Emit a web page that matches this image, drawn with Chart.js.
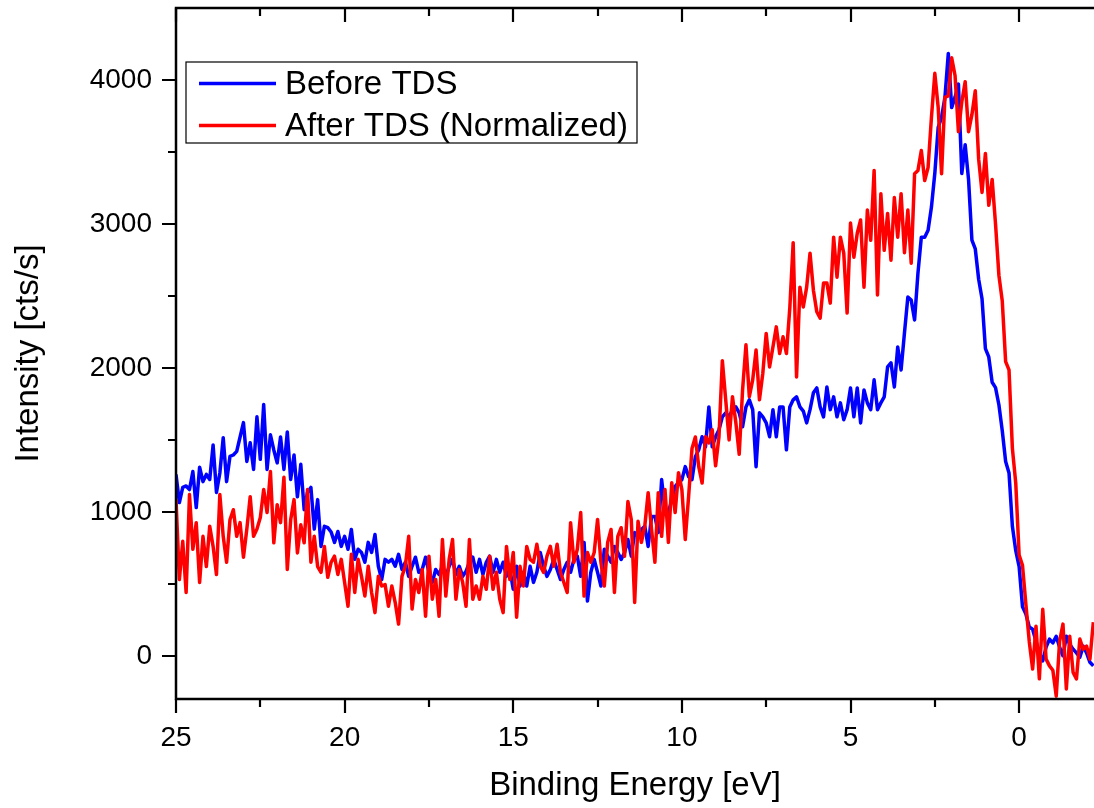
<!DOCTYPE html>
<html>
<head>
<meta charset="utf-8">
<script src="https://cdn.jsdelivr.net/npm/chart.js@4.4.0/dist/chart.umd.min.js"></script>
<style>
  html, body { margin: 0; padding: 0; background: #fff; }
  #wrap { width: 1094px; height: 808px; }
</style>
</head>
<body>
<div id="wrap"><canvas id="xps" width="1094" height="808"></canvas></div>
<script>
//spectrum sampling: first binding energy and step (eV)
const energyStart = 25;
const energyStep = 0.1;

const beforeTDS = [
  1260,1065,1170,1180,1155,1280,1030,1310,1210,1260,
  1225,1465,1135,1270,1515,1210,1385,1395,1420,1520,
  1620,1350,1480,1295,1660,1365,1745,1295,1535,1430,
  1340,1520,1295,1555,1225,1395,1105,1330,1015,1135,
  1170,880,1085,760,900,890,860,
  788,864,760,830,740,878,670,740,718,650,
  788,718,843,622,530,670,650,670,622,705,
  600,650,552,622,685,580,600,685,580,510,
  600,565,622,552,622,670,565,622,552,587,
  650,685,580,670,565,650,692,
  580,670,580,650,552,600,462,622,485,580,
  485,622,510,580,718,622,552,600,670,600,
  530,600,650,580,670,692,552,788,380,580,
  670,580,485,740,692,650,760,718,670,718,
  808,692,856,830,878,900,760,
  968,968,856,1224,1015,995,1085,1176,1203,1224,
  1314,1245,1224,1383,1431,1522,1452,1729,1452,1522,
  1570,1660,1688,1660,1710,1729,1688,1591,1729,1778,
  1710,1314,1688,1660,1618,1522,1710,1522,1729,1729,
  1431,1729,1778,1799,1729,1700,
  1618,1710,1827,1861,1729,1660,1868,1710,1799,1660,
  1757,1640,1710,1861,1660,1861,1618,1847,1757,1710,
  1917,1710,1757,1799,2007,2035,1868,2145,1986,2243,
  2492,2471,2333,2658,2908,2908,2956,3117,3352,3671,
  3740,3879,4184,
  3808,3881,3971,3350,3550,3309,2887,2826,2616,2480,
  2134,2076,1900,1863,1744,1564,1350,1270,900,730,
  620,340,290,200,185,100,20,-35,60,116,
  90,136,60,0,136,80,46,20,-10,67,
  20,-45,-70
];

//After TDS (normalized) intensity [cts/s], same energies
const afterTDS = [
  1085,530,795,440,1120,740,925,510,830,620,
  900,760,565,1120,830,650,945,1015,830,925,
  685,880,1105,830,880,960,1155,995,1280,785,
  1050,925,1240,600,945,1085,715,910,785,1155,
  650,830,620,580,760,545,650,
  692,565,670,510,345,705,440,670,552,415,
  622,440,300,552,485,495,345,485,370,220,
  552,622,830,325,530,440,600,275,692,393,
  530,275,808,415,670,808,393,600,510,345,
  808,393,485,393,552,462,692,
  462,580,393,300,760,530,718,268,622,485,
  760,670,650,775,622,580,692,760,622,775,
  580,510,440,925,650,740,995,415,718,650,
  718,947,650,485,788,878,440,830,890,692,
  1072,947,370,935,788,900,1133,
  880,650,1133,830,1155,788,1203,995,1272,1155,
  808,1107,1440,1520,1314,1200,1522,1479,1570,1320,
  1522,2050,1778,1500,1799,1620,1400,1847,2160,1800,
  1917,2124,1778,1963,2239,2007,2145,2285,2100,2216,
  2100,2415,2870,1937,2561,2423,
  2561,2797,2540,2390,2346,2589,2589,2450,2908,2630,
  2908,2797,2381,3006,2769,2935,3027,2561,3096,2887,
  3372,2506,3210,2817,3073,2748,3183,2908,3210,2800,
  3096,2727,3349,3372,3510,3302,3391,3740,4046,3810,
  3349,3879,3890,
  4154,4031,3641,3849,3988,3641,3759,3925,3450,3219,
  3490,3129,3309,3000,2644,2464,2044,1986,1441,1200,
  700,628,358,100,-92,206,-160,323,-23,-70,
  -100,-280,100,220,-230,136,-115,-160,116,46,
  67,-23,233
];

const seriesLabels = ['Before TDS', 'After TDS (Normalized)'];
const seriesColors = ['#0000ff', '#ff0000'];

//tick values
const xMajorTicks = [25, 20, 15, 10, 5, 0];
const xMinorTicks = [22.5, 17.5, 12.5, 7.5, 2.5];
const yMajorTicks = [0, 1000, 2000, 3000, 4000];
const yMinorTicks = [500, 1500, 2500, 3500];

const fontFamily = '"Liberation Sans", Arial, sans-serif';

//pair every value with its binding energy
function toPoints(values) {
  return values.map((v, i) => ({ x: +(energyStart - i * energyStep).toFixed(1), y: v }));
}

//draw the axis frame (left, top, bottom) and the tick marks
const framePlugin = {
  id: 'frame',
  afterDatasetsDraw(chart) {
    const ctx = chart.ctx;
    const a = chart.chartArea;
    const xs = chart.scales.x;
    const ys = chart.scales.y;
    ctx.save();
    ctx.strokeStyle = '#000';
    ctx.lineWidth = 2.5;
    ctx.lineCap = 'butt';
    ctx.beginPath();
    ctx.moveTo(a.right + 2, a.top);
    ctx.lineTo(a.left, a.top);
    ctx.lineTo(a.left, a.bottom);
    ctx.lineTo(a.right + 2, a.bottom);
    ctx.stroke();

    ctx.lineWidth = 2.2;
    ctx.beginPath();
    //bottom ticks point out, top ticks point in
    xMajorTicks.concat(xMinorTicks).forEach(function (v) {
      var len = xMajorTicks.includes(v) ? 14 : 8;
      var px = Math.round(xs.getPixelForValue(v));
      ctx.moveTo(px, a.bottom);
      ctx.lineTo(px, a.bottom + len);
      ctx.moveTo(px, a.top);
      ctx.lineTo(px, a.top + len);
    });
    //left ticks point out
    yMajorTicks.concat(yMinorTicks).forEach(function (v) {
      var len = yMajorTicks.includes(v) ? 14 : 8;
      var py = Math.round(ys.getPixelForValue(v));
      ctx.moveTo(a.left - len, py);
      ctx.lineTo(a.left, py);
    });
    ctx.stroke();
    ctx.restore();
  }
};

//legend box inside the plot
const legendPlugin = {
  id: 'boxLegend',
  afterDraw(chart) {
    const ctx = chart.ctx;
    ctx.save();
    ctx.fillStyle = '#fff';
    ctx.fillRect(186, 62, 451, 81);
    ctx.strokeStyle = '#000';
    ctx.lineWidth = 1.2;
    ctx.strokeRect(186, 62, 451, 81);
    ctx.font = '33px ' + fontFamily;
    ctx.textBaseline = 'middle';
    ctx.textAlign = 'left';
    const rows = [83.5, 125.5];
    chart.data.datasets.forEach(function (ds, i) {
      ctx.strokeStyle = ds.borderColor;
      ctx.lineWidth = 3.5;
      ctx.beginPath();
      ctx.moveTo(199, rows[i]);
      ctx.lineTo(276, rows[i]);
      ctx.stroke();
      ctx.fillStyle = '#000';
      ctx.fillText(ds.label, 285, rows[i] + 1);
    });
    ctx.restore();
  }
};

const ctx = document.getElementById('xps');
const chart = new Chart(ctx, {
  type: 'line',
  data: {
    datasets: [
      {
        label: seriesLabels[0],
        data: toPoints(beforeTDS),
        borderColor: seriesColors[0],
        borderWidth: 3.5,
        borderJoinStyle: 'round',
        pointRadius: 0,
        tension: 0,
        order: 2
      },
      {
        label: seriesLabels[1],
        data: toPoints(afterTDS),
        borderColor: seriesColors[1],
        borderWidth: 3.5,
        borderJoinStyle: 'round',
        pointRadius: 0,
        tension: 0,
        order: 1
      }
    ]
  },
  options: {
    responsive: false,
    animation: false,
    devicePixelRatio: 1,
    layout: { padding: { top: 8, left: 0, right: 0, bottom: 0 } },
    plugins: {
      legend: { display: false },
      tooltip: { enabled: false }
    },
    scales: {
      x: {
        type: 'linear',
        reverse: true,
        min: -2.22,
        max: 25,
        afterFit: function (s) { s.height = 109; s.paddingLeft = 0; s.paddingRight = 0; },
        afterBuildTicks: function (s) { s.ticks = xMajorTicks.map(v => ({ value: v })); },
        grid: { display: false, drawTicks: false },
        border: { display: false },
        ticks: {
          color: '#000',
          padding: 22,
          maxRotation: 0,
          autoSkip: false,
          font: { size: 28, family: fontFamily },
          callback: v => String(v)
        },
        title: {
          display: true,
          text: 'Binding Energy [eV]',
          color: '#000',
          font: { size: 33, family: fontFamily },
          padding: { top: 0, bottom: 2 }
        }
      },
      y: {
        min: -300,
        max: 4500,
        afterFit: function (s) { s.width = 176; s.paddingTop = 0; s.paddingBottom = 0; },
        afterBuildTicks: function (s) { s.ticks = yMajorTicks.map(v => ({ value: v })); },
        grid: { display: false, drawTicks: false },
        border: { display: false },
        ticks: {
          color: '#000',
          padding: 24,
          font: { size: 28, family: fontFamily },
          callback: v => String(v)
        },
        title: {
          display: true,
          text: 'Intensity [cts/s]',
          color: '#000',
          font: { size: 33, family: fontFamily },
          padding: { top: 9, bottom: 0 }
        }
      }
    }
  },
  plugins: [framePlugin, legendPlugin]
});
</script>
</body>
</html>
